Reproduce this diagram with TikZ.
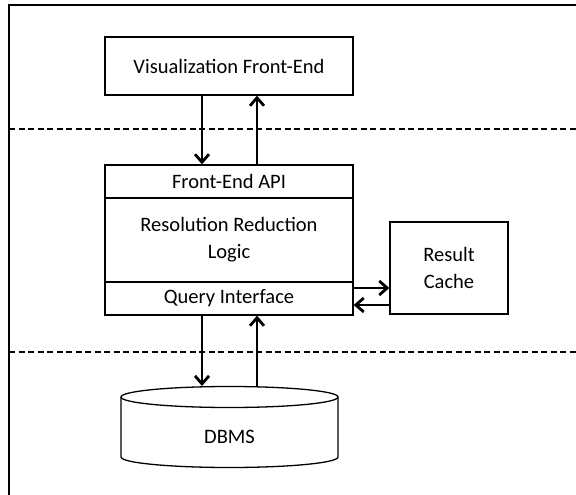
\documentclass[tikz,border=0pt]{standalone}
\usepackage{fontspec}
\setmainfont{Carlito}
\usepackage{tikz}
\usetikzlibrary{calc,arrows.meta}

\tikzset{
  box/.style={draw, line width=1.3pt, minimum width=248pt, inner sep=0pt, align=center},
  flow/.style={line width=2.8pt, -{Straight Barb[length=8pt,width=14pt]}},
  layer/.style={line width=1.5pt, dash pattern=on 6pt off 3.5pt},
}

\begin{document}
\begin{tikzpicture}[x=1pt,y=-1pt,font=\fontsize{20.5}{27}\selectfont]
\useasboundingbox (0,0) rectangle (576,495);
\draw[line width=1.3pt] (9,495)--(9,5)--(577,5);
\node[box, minimum height=58pt] (vis) at (229,66) {Visualization Front-End};
\draw[layer] (9,129)--(577,129);
\node[box, minimum height=33pt] (api) at (229,181.5) {Front-End API};
\node[box, minimum height=84pt] (logic) at (229,240) {Resolution Reduction\\Logic};
\node[box, minimum height=33pt] (query) at (229,298.5) {Query Interface};
\node[box, minimum width=118pt, minimum height=92pt] (cache) at (449,268) {Result\\Cache};
\draw[layer] (9,352)--(577,352);
\def\RX{108.5};\def\RY{10.5};
\coordinate (dbtop) at (229.5,397);
\draw[line width=1.3pt, fill=white] ($(dbtop)+(-\RX,0)$) -- ++(0,60) arc[start angle=180, end angle=360, x radius=\RX, y radius=-\RY] -- ++(0,-60);
\draw[line width=1.3pt] (dbtop) ellipse[x radius=\RX, y radius=\RY];
\node (db) at (229.5,437) {DBMS};
\coordinate (qa) at ($(query.east)+(0,-10.5)$);
\coordinate (qb) at ($(query.east)+(0,6.5)$);
\draw[flow] ($(vis.south)+(-27,0)$) -- ($(api.north)+(-27,0)$);
\draw[flow] ($(api.north)+(28,0)$) -- ($(vis.south)+(28,0)$);
\draw[flow] (qa) -- (qa -| cache.west);
\draw[flow] (qb -| cache.west) -- (qb);
\draw[flow] ($(query.south)+(-27,0)$) -- ($(dbtop)+(-27.5,-11)$);
\draw[flow] ($(dbtop)+(27.5,-11)$) -- ($(query.south)+(28,0)$);
\end{tikzpicture}
\end{document}
